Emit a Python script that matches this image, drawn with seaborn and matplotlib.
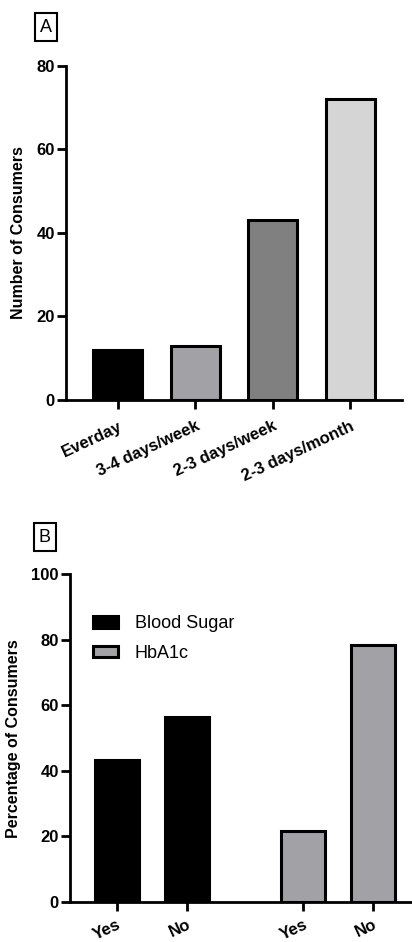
import matplotlib
matplotlib.use("Agg")
import matplotlib.pyplot as plt
from matplotlib.patches import Patch
import seaborn as sns
import pandas as pd

# ---- data ----
freq_categories = ["Everday", "3-4 days/week", "2-3 days/week", "2-3 days/month"]
freq_counts = [12, 13, 43, 72]
freq_colors = ["#000000", "#a2a2a6", "#808080", "#d5d5d5"]

test_names = ["Blood Sugar", "Blood Sugar", "HbA1c", "HbA1c"]
answer_labels = ["Yes", "No", "Yes", "No"]
test_percent = [43.4, 56.6, 21.6, 78.4]
test_colors = {"Blood Sugar": "#000000", "HbA1c": "#a2a2a6"}

# layout (bar slots for panel B, with a gap between groups)
b_slots = [0.0, 1.0, 2.66, 3.66]

sns.set_theme(style="ticks")
plt.rcParams["font.family"] = ["Liberation Sans", "DejaVu Sans"]
plt.rcParams.update({"text.color": "black", "axes.labelcolor": "black",
                     "xtick.color": "black", "ytick.color": "black",
                     "axes.edgecolor": "black"})

W, H = 412, 942
fig = plt.figure(figsize=(W / 100, H / 100), dpi=100)

def rect(l, t, r, b):
    return [l / W, 1 - b / H, (r - l) / W, (b - t) / H]

EDGE = 2.2
tick_kw = dict(length=6.5, width=2, color="black", labelcolor="black", labelsize=12)


def style_axes(ax, ylabel, xlab_coord, xpad):
    ax.set_xlabel("")
    ax.set_ylabel(ylabel, fontsize=11.5, fontweight="bold", color="black")
    ax.yaxis.set_label_coords(xlab_coord, 0.5)
    for s in ["top", "right"]:
        ax.spines[s].set_visible(False)
    for s in ["left", "bottom"]:
        ax.spines[s].set_linewidth(2)
        ax.spines[s].set_color("black")
    ax.tick_params(axis="both", **tick_kw)
    ax.tick_params(axis="y", pad=1.5)
    ax.tick_params(axis="x", pad=xpad)
    for lab in ax.get_yticklabels():
        lab.set_fontweight("bold")
    for lab in ax.get_xticklabels():
        lab.set_fontweight("bold")
        lab.set_rotation(25)
        lab.set_ha("right")
        lab.set_va("top")
        lab.set_rotation_mode("anchor")


# ---------- Panel A ----------
axA = fig.add_axes(rect(66, 65.7, 402, 400))
dfA = pd.DataFrame({"cat": freq_categories, "n": freq_counts})
sns.barplot(data=dfA, x="cat", y="n", hue="cat", palette=freq_colors, legend=False,
            width=0.63, edgecolor="black", linewidth=EDGE, ax=axA, saturation=1)
axA.set_xlim(-0.67, 3.67)
axA.set_ylim(0, 80)
axA.set_yticks([0, 20, 40, 60, 80])
style_axes(axA, "Number of Consumers", -0.118, 7)

fig.text(46 / W, 1 - 27 / H, "A", fontsize=13, ha="center", va="center",
         bbox=dict(boxstyle="square,pad=0.28", fc="white", ec="black", lw=1.5))

# ---------- Panel B ----------
axB = fig.add_axes(rect(70, 574.3, 420, 902))
dfB = pd.DataFrame({"pos": b_slots, "pct": test_percent, "test": test_names})
sns.barplot(data=dfB, x="pos", y="pct", hue="test", palette=test_colors, native_scale=True,
            dodge=False, width=0.62, edgecolor="black", linewidth=EDGE, ax=axB,
            saturation=1, legend=False)
axB.set_xlim(-0.67, 4.33)
axB.set_ylim(0, 100)
axB.set_yticks([0, 20, 40, 60, 80, 100])
axB.set_xticks(b_slots)
axB.set_xticklabels(answer_labels)
style_axes(axB, "Percentage of Consumers", -0.14, 4)

handles = [Patch(facecolor=test_colors[k], edgecolor="black", linewidth=EDGE, label=k)
           for k in ["Blood Sugar", "HbA1c"]]
axB.legend(handles=handles, loc="upper left", bbox_to_anchor=(0.066, 0.875),
           frameon=False, fontsize=13, borderpad=0, borderaxespad=0,
           handlelength=1.4, handleheight=0.6, handletextpad=0.9, labelspacing=0.7)

fig.text(45 / W, 1 - 537 / H, "B", fontsize=13, ha="center", va="center",
         bbox=dict(boxstyle="square,pad=0.28", fc="white", ec="black", lw=1.5))

fig.savefig("out.png", dpi=100)
